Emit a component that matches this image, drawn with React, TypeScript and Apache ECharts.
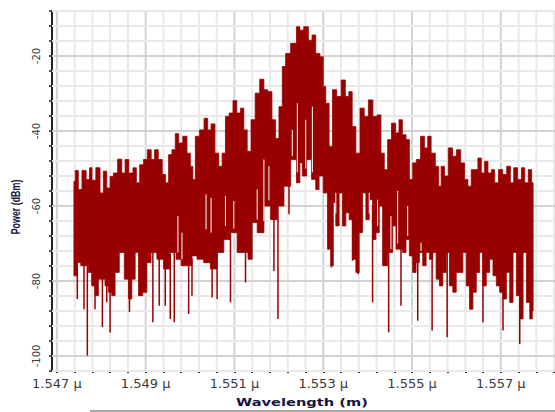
import React, { useEffect, useRef } from "react";
import * as echarts from "echarts";

// wavelength in nm (labels shown in µm), power in dBm
const X_MIN = 1546.89;
const X_MAX = 1558.22;
const Y_MIN = -104;
const Y_MAX = -8;
const xMajor = [1547, 1549, 1551, 1553, 1555, 1557];
const yMajor = [-100, -80, -60, -40, -20];
const X_STEP = 0.4;
const Y_STEP = 4;

const topEnvelope: [number, number][] = [
  [1547.384, -53.4], [1547.445, -50.5], [1547.52, -55.6], [1547.61, -50.5], [1547.708, -52.9],
  [1547.761, -49.8], [1547.821, -53.1], [1547.934, -49.8], [1548.01, -56.5], [1548.085, -50.7],
  [1548.16, -55.2], [1548.236, -52.1], [1548.311, -51.2], [1548.424, -47.5], [1548.499, -51.2],
  [1548.575, -47.6], [1548.665, -51.2], [1548.763, -49.8], [1548.816, -53.8], [1548.914, -49.0],
  [1548.989, -47.6], [1549.087, -45.0], [1549.162, -47.6], [1549.238, -45.0], [1549.328, -47.6],
  [1549.418, -51.6], [1549.479, -53.8], [1549.554, -46.3], [1549.629, -45.0], [1549.705, -40.7],
  [1549.78, -43.2], [1549.893, -41.4], [1549.968, -45.9], [1550.043, -49.4], [1550.081, -52.9],
  [1550.157, -41.4], [1550.27, -39.7], [1550.36, -36.6], [1550.435, -39.7], [1550.511, -38.1],
  [1550.609, -45.9], [1550.684, -49.4], [1550.759, -45.9], [1550.835, -36.1], [1550.925, -35.2],
  [1551.008, -31.9], [1551.098, -35.2], [1551.173, -33.9], [1551.249, -39.7], [1551.324, -45.4],
  [1551.422, -37.0], [1551.512, -29.9], [1551.625, -26.2], [1551.701, -29.0], [1551.799, -29.5],
  [1551.889, -37.0], [1551.964, -42.0], [1552.04, -33.5], [1552.115, -22.8], [1552.19, -19.3],
  [1552.341, -16.6], [1552.454, -12.2], [1552.492, -13.1], [1552.627, -12.2], [1552.702, -15.8],
  [1552.793, -14.4], [1552.868, -19.3], [1552.981, -20.2], [1553.019, -28.1], [1553.094, -32.6],
  [1553.17, -44.1], [1553.245, -29.0], [1553.358, -30.8], [1553.448, -26.4], [1553.546, -30.8],
  [1553.606, -29.5], [1553.697, -38.8], [1553.772, -45.9], [1553.885, -33.9], [1553.96, -36.1],
  [1554.073, -31.7], [1554.164, -36.1], [1554.262, -35.7], [1554.337, -45.9], [1554.412, -50.3],
  [1554.488, -42.3], [1554.586, -37.9], [1554.676, -40.5], [1554.736, -37.0], [1554.827, -41.0],
  [1554.902, -42.3], [1554.977, -52.9], [1555.053, -48.5], [1555.143, -47.6], [1555.241, -41.4],
  [1555.316, -44.5], [1555.392, -41.4], [1555.467, -45.9], [1555.58, -49.4], [1555.618, -54.7],
  [1555.693, -49.4], [1555.768, -52.0], [1555.866, -44.5], [1555.957, -46.7], [1556.047, -45.0],
  [1556.145, -48.5], [1556.22, -52.9], [1556.296, -54.7], [1556.371, -50.3], [1556.446, -50.3],
  [1556.522, -47.2], [1556.597, -51.2], [1556.672, -48.1], [1556.748, -51.2], [1556.823, -50.3],
  [1556.898, -53.8], [1556.996, -50.3], [1557.087, -51.6], [1557.177, -49.4], [1557.252, -53.8],
  [1557.328, -49.8], [1557.426, -52.9], [1557.501, -49.8], [1557.576, -53.8], [1557.659, -50.3],
  [1557.727, -53.8],
];

const bottomEnvelope: [number, number][] = [
  [1547.384, -78.6], [1547.445, -78.6], [1547.482, -75.1], [1547.595, -75.9], [1547.671, -75.9],
  [1547.746, -77.7], [1547.821, -81.3], [1547.897, -83.9], [1547.972, -79.5], [1548.047, -79.5],
  [1548.123, -81.3], [1548.198, -83.0], [1548.273, -83.9], [1548.349, -77.7], [1548.462, -72.4],
  [1548.575, -79.5], [1548.65, -84.8], [1548.725, -79.5], [1548.801, -72.4], [1548.876, -83.9],
  [1548.989, -83.0], [1549.064, -75.1], [1549.177, -72.4], [1549.328, -74.2], [1549.479, -76.8],
  [1549.629, -72.4], [1549.742, -74.2], [1549.855, -75.9], [1550.006, -75.9], [1550.081, -73.3],
  [1550.232, -74.2], [1550.382, -75.1], [1550.533, -76.8], [1550.684, -72.4], [1550.835, -68.9],
  [1550.985, -67.1], [1551.136, -72.4], [1551.249, -72.4], [1551.362, -74.2], [1551.437, -64.4],
  [1551.588, -67.1], [1551.739, -60.0], [1551.889, -63.6], [1552.04, -60.0], [1552.19, -54.7],
  [1552.341, -47.6], [1552.454, -53.8], [1552.492, -48.5], [1552.567, -52.0], [1552.68, -47.6],
  [1552.793, -52.9], [1552.868, -55.6], [1552.944, -52.0], [1553.056, -56.5], [1553.132, -71.5],
  [1553.207, -75.9], [1553.245, -59.1], [1553.32, -65.3], [1553.395, -56.5], [1553.471, -65.3],
  [1553.546, -61.8], [1553.621, -63.6], [1553.697, -74.2], [1553.772, -77.7], [1553.847, -67.1],
  [1553.923, -56.5], [1553.998, -63.6], [1554.073, -58.3], [1554.149, -68.9], [1554.224, -67.1],
  [1554.299, -60.0], [1554.375, -75.9], [1554.525, -72.4], [1554.601, -65.3], [1554.676, -71.5],
  [1554.751, -71.5], [1554.827, -72.4], [1554.902, -68.9], [1554.977, -73.3], [1555.053, -77.7],
  [1555.128, -75.1], [1555.203, -72.4], [1555.279, -75.9], [1555.354, -72.4], [1555.429, -74.2],
  [1555.505, -72.4], [1555.58, -79.5], [1555.655, -81.3], [1555.731, -77.7], [1555.806, -72.4],
  [1555.881, -81.3], [1555.957, -83.0], [1556.032, -77.7], [1556.107, -77.7], [1556.183, -72.4],
  [1556.258, -81.3], [1556.333, -87.5], [1556.409, -83.0], [1556.484, -77.7], [1556.559, -72.4],
  [1556.635, -81.3], [1556.71, -77.7], [1556.785, -74.2], [1556.861, -78.6], [1556.936, -81.3],
  [1557.011, -83.0], [1557.087, -84.8], [1557.162, -77.7], [1557.237, -85.7], [1557.313, -72.4],
  [1557.388, -83.9], [1557.463, -90.1], [1557.539, -72.4], [1557.614, -85.7], [1557.689, -90.1],
  [1557.727, -88.0],
];

// deep dips: [wavelength, from dBm, to dBm]
const spikes: [number, number, number][] = [
  [1547.46, -76, -84.8], [1547.61, -74, -87.5], [1547.686, -74, -99.9], [1547.859, -80, -87.5],
  [1548.025, -78, -92.3], [1548.123, -79, -85.7], [1548.198, -80, -93.7], [1548.635, -80, -88.3],
  [1549.162, -71, -91.0], [1549.305, -72, -86.6], [1549.441, -74, -86.6], [1549.554, -73, -90.1],
  [1549.644, -71, -91.0], [1549.968, -74, -88.8], [1550.043, -74, -83.9], [1550.496, -74, -84.4],
  [1550.609, -72, -84.8], [1550.91, -66, -85.7], [1551.249, -70, -80.4], [1551.889, -61, -77.3],
  [1551.98, -60, -90.1], [1552.228, -50, -62.2], [1553.184, -70, -76.4], [1553.659, -62, -74.6],
  [1553.787, -74, -78.2], [1554.111, -60, -85.7], [1554.473, -70, -93.7], [1554.751, -70, -86.6],
  [1555.128, -73, -90.6], [1555.452, -72, -93.2], [1555.791, -72, -95.0], [1556.597, -72, -91.0],
  [1557.049, -81, -93.2], [1557.426, -80, -96.8],
];

// narrow notches inside the filled band: [wavelength, from dBm, to dBm]
const notches: [number, number, number][] = [
  [1549.727, -62.7, -72.4], [1549.818, -67.1, -74.2], [1550.36, -56.9, -66.2], [1550.473, -57.8, -67.1],
  [1550.797, -57.4, -65.3], [1550.985, -58.7, -66.0], [1551.512, -55.6, -63.6], [1551.663, -47.6, -64.0],
  [1551.776, -49.4, -58.5], [1552.303, -39.7, -46.7], [1552.416, -32.6, -51.0], [1552.605, -37.0, -50.0],
  [1552.755, -33.5, -51.0], [1553.283, -56.5, -62.0], [1554.036, -56.5, -62.0],
  [1554.224, -58.3, -65.3], [1554.525, -62.7, -71.5], [1554.676, -56.0, -70.0], [1554.902, -60.0, -68.0],
  [1555.203, -69.8, -72.0],
];

function steps(from: number, to: number, step: number): number[] {
  const out: number[] = [];
  for (let i = 0; from + i * step <= to + 1e-9; i++) out.push(Math.round((from + i * step) * 1000) / 1000);
  return out;
}
const xGrid = steps(1547, 1558.2, X_STEP);
const yGrid = steps(Y_MIN, Y_MAX, Y_STEP);
const isMajor = (arr: number[], v: number) => arr.some((m) => Math.abs(m - v) < 1e-6);

const RED = "#990000";

// turn mapped points into a stepped outline (each sample is a flat plateau)
function stepOutline(p: number[][]): number[][] {
  const out: number[][] = [];
  for (let i = 0; i < p.length; i++) {
    const l = i === 0 ? p[i][0] : (p[i - 1][0] + p[i][0]) / 2;
    const r = i === p.length - 1 ? p[i][0] : (p[i][0] + p[i + 1][0]) / 2;
    out.push([l, p[i][1]], [r, p[i][1]]);
  }
  return out;
}

export default function App() {
  const ref = useRef<HTMLDivElement>(null);
  useEffect(() => {
    if (!ref.current) return;
    const chart = echarts.init(ref.current, null, { renderer: "svg" });
    const yAxisBase = {
      type: "value" as const,
      min: Y_MIN,
      max: Y_MAX,
      interval: Y_STEP,
      splitLine: { show: false },
    };
    chart.setOption({
      animation: false,
      grid: { left: 52, top: 11, right: 0, bottom: 41, containLabel: false },
      xAxis: {
        type: "value",
        min: X_MIN,
        max: X_MAX,
        splitLine: { show: false },
        axisLine: { show: true, onZero: false, lineStyle: { color: "#444", width: 1, type: [1, 1.5] } },
        axisTick: { show: true, customValues: xGrid, length: 2, lineStyle: { color: "#333", width: 2 } },
        axisLabel: {
          customValues: xMajor,
          formatter: (v: number) => (v / 1000).toFixed(3) + " μ",
          color: "#3a3a3a",
          fontFamily: "DejaVu Sans",
          fontSize: 13,
          margin: 6,
        },
      },
      yAxis: [
        {
          ...yAxisBase,
          axisLine: { show: true, lineStyle: { color: "#222", width: 2 } },
          axisTick: { show: true, customValues: yGrid, length: 3, lineStyle: { color: "#222", width: 1.5 } },
          axisLabel: {
            customValues: yMajor,
            rotate: 90,
            color: "#3a3a3a",
            fontFamily: "DejaVu Sans",
            fontSize: 10,
            margin: 11,
          },
        },
        {
          ...yAxisBase,
          axisLine: { show: false },
          axisTick: { show: true, inside: true, customValues: yGrid, length: 3, lineStyle: { color: "#222", width: 1.5 } },
          axisLabel: { show: false },
        },
        {
          ...yAxisBase,
          axisLine: { show: false },
          axisTick: { show: true, customValues: yMajor, length: 7, lineStyle: { color: "#222", width: 1.5 } },
          axisLabel: { show: false },
        },
        {
          ...yAxisBase,
          axisLine: { show: false },
          axisTick: { show: true, inside: true, customValues: yMajor, length: 6, lineStyle: { color: "#222", width: 1.5 } },
          axisLabel: { show: false },
        },
      ],
      series: [
        {
          type: "custom",
          name: "xgrid",
          silent: true,
          z: 1,
          data: xGrid.map((v) => [v, Y_MIN]),
          encode: { x: 0, y: 1 },
          renderItem: (_p: any, api: any) => {
            const v = api.value(0);
            const a = api.coord([v, Y_MIN]);
            const b = api.coord([v, Y_MAX]);
            const major = isMajor(xMajor, v);
            return {
              type: "line",
              shape: { x1: a[0], y1: a[1], x2: b[0], y2: b[1] },
              style: { stroke: major ? "#d2d2d2" : "#e9e9e9", lineWidth: 2 },
            };
          },
        },
        {
          type: "custom",
          name: "ygrid",
          silent: true,
          z: 1,
          data: yGrid.map((v) => [X_MIN, v]),
          encode: { x: 0, y: 1 },
          renderItem: (_p: any, api: any) => {
            const v = api.value(1);
            const a = api.coord([X_MIN, v]);
            const b = api.coord([X_MAX, v]);
            const major = isMajor(yMajor, v);
            return {
              type: "line",
              shape: { x1: a[0], y1: a[1], x2: b[0], y2: b[1] },
              style: { stroke: major ? "#d2d2d2" : "#e9e9e9", lineWidth: 2 },
            };
          },
        },
        {
          type: "custom",
          name: "spectrum",
          silent: true,
          z: 3,
          clip: true,
          data: [[X_MIN, Y_MIN]],
          encode: { x: 0, y: 1 },
          renderItem: (_p: any, api: any) => {
            const top = stepOutline(topEnvelope.map((d) => api.coord(d)));
            const bottom = stepOutline(bottomEnvelope.map((d) => api.coord(d))).reverse();
            return {
              type: "polygon",
              shape: { points: top.concat(bottom) },
              style: { fill: RED, stroke: RED, lineWidth: 0.8 },
            };
          },
        },
        {
          type: "custom",
          name: "notches",
          silent: true,
          z: 4,
          data: notches,
          encode: { x: 0, y: 1 },
          renderItem: (_p: any, api: any) => {
            const a = api.coord([api.value(0), api.value(1)]);
            const b = api.coord([api.value(0), api.value(2)]);
            return {
              type: "line",
              shape: { x1: a[0], y1: a[1], x2: b[0], y2: b[1] },
              style: { stroke: "#ffffff", lineWidth: 1 },
            };
          },
        },
        {
          type: "custom",
          name: "spikes",
          silent: true,
          z: 3,
          data: spikes,
          encode: { x: 0, y: 2 },
          renderItem: (_p: any, api: any) => {
            const a = api.coord([api.value(0), api.value(1)]);
            const b = api.coord([api.value(0), api.value(2)]);
            return {
              type: "line",
              shape: { x1: a[0], y1: a[1], x2: b[0], y2: b[1] },
              style: { stroke: RED, lineWidth: 1.5 },
            };
          },
        },
      ],
      graphic: [
        {
          type: "text",
          x: 15,
          y: 207,
          rotation: Math.PI / 2,
          scaleX: 0.74,
          style: {
            text: "Power (dBm)",
            fill: "#14143c",
            font: "bold 12px 'Liberation Sans'",
            align: "center",
            verticalAlign: "middle",
          },
        },
        {
          type: "text",
          x: 302,
          y: 402,
          scaleX: 1.33,
          style: {
            text: "Wavelength (m)",
            fill: "#14143c",
            font: "bold 11px 'DejaVu Sans'",
            align: "center",
            verticalAlign: "middle",
          },
        },
        {
          type: "line",
          shape: { x1: 90, y1: 411, x2: 555, y2: 411 },
          style: { stroke: "#555", lineWidth: 1 },
        },
      ],
    });
    return () => chart.dispose();
  }, []);
  return <div ref={ref} style={{ width: 555, height: 412, position: "absolute", left: 0, top: 0 }} />;
}
